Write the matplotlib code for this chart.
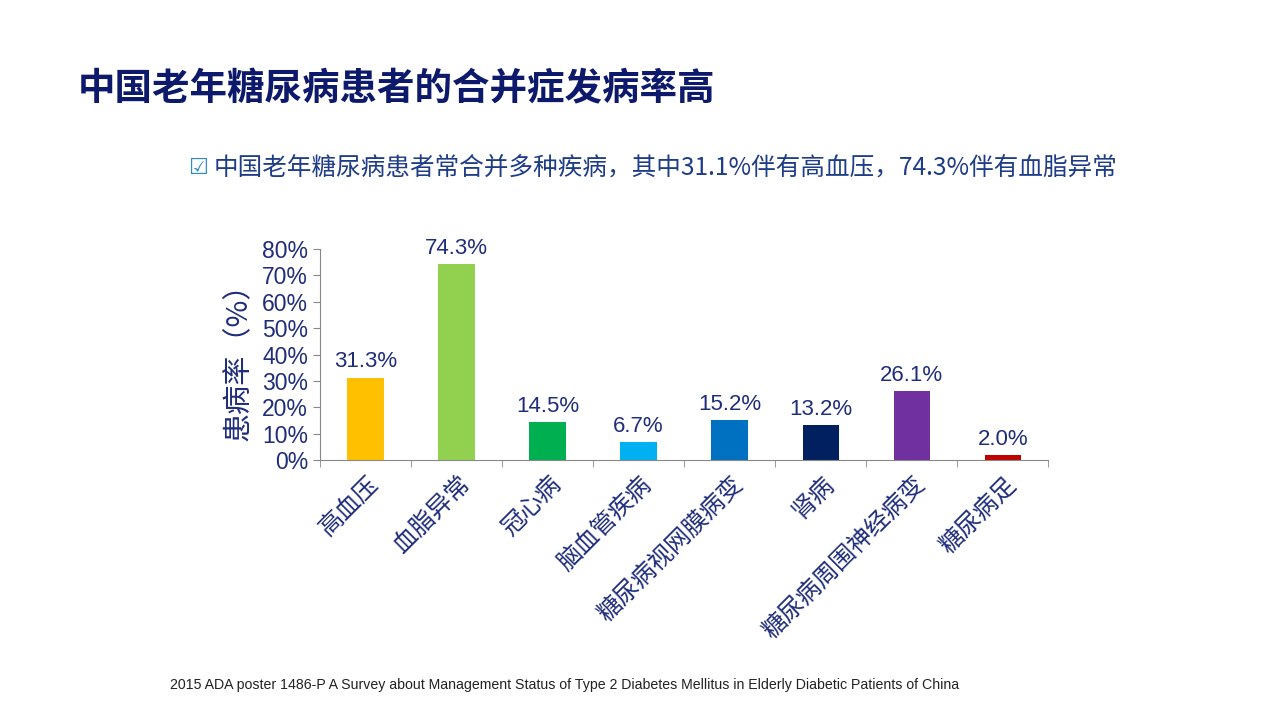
import matplotlib.pyplot as plt
from matplotlib.ticker import FixedLocator, PercentFormatter
import numpy as np

plt.rcParams['font.family'] = ['Noto Sans CJK SC', 'DejaVu Sans']

categories = ["高血压", "血脂异常", "冠心病", "脑血管疾病", "糖尿病视网膜病变",
              "肾病", "糖尿病周围神经病变", "糖尿病足"]
values = [31.3, 74.3, 14.5, 6.7, 15.2, 13.2, 26.1, 2.0]
colors = ["#FFC000", "#92D050", "#00B050", "#00B0F0", "#0070C0",
          "#002060", "#7030A0", "#C00000"]
navy = "#0D1A6B"
txt = "#1F2D7A"

fig = plt.figure(figsize=(12.8, 7.2), dpi=100)
fig.text(0.061, 0.877, "中国老年糖尿病患者的合并症发病率高", fontsize=27,
         fontweight="bold", color=navy, va="center")
fig.text(0.147, 0.767, "☑", fontsize=16, color="#2E8BC9", va="center",
         family=["DejaVu Sans"])
fig.text(0.167, 0.767, "中国老年糖尿病患者常合并多种疾病，其中31.1%伴有高血压，74.3%伴有血脂异常",
         fontsize=17.7, color="#1F3C88", va="center")
fig.text(0.133, 0.043, "2015 ADA poster 1486-P A Survey about Management Status of Type 2 "
         "Diabetes Mellitus in Elderly Diabetic Patients of China",
         fontsize=10.2, color="#222222", family=["Liberation Sans", "DejaVu Sans"])

ax = fig.add_axes([0.25, 0.361, 0.569, 0.293])
x = np.arange(len(categories))
ax.bar(x, values, width=0.4, color=colors)
for xi, v in zip(x, values):
    ax.text(xi, v + 2, f"{v:.1f}%", ha="center", va="bottom", fontsize=16,
            color=txt, family=["Liberation Sans", "DejaVu Sans"])

ax.set_xlim(-0.5, len(categories) - 0.5)
ax.set_ylim(0, 80)
ax.yaxis.set_major_locator(FixedLocator(np.arange(0, 81, 10)))
ax.yaxis.set_major_formatter(PercentFormatter(decimals=0))
ax.set_xticks(x)
ax.set_xticklabels(categories, rotation=45, ha="right", rotation_mode="anchor",
                   fontsize=17.5, color=txt)
ax.xaxis.set_minor_locator(FixedLocator(np.arange(-0.5, len(categories), 1)))
ax.tick_params(axis="x", which="major", length=0, pad=8)
ax.tick_params(axis="x", which="minor", length=5, color="#888888")
ax.tick_params(axis="y", length=5, color="#888888", labelsize=16.5, labelcolor=txt)
for lab in ax.get_yticklabels():
    lab.set_family(["Liberation Sans", "DejaVu Sans"])
for s in ["top", "right"]:
    ax.spines[s].set_visible(False)
for s in ["left", "bottom"]:
    ax.spines[s].set_color("#888888")
ax.set_ylabel("患病率（%）", fontsize=21, color=txt, labelpad=6)

fig.savefig("out.png", dpi=100)
